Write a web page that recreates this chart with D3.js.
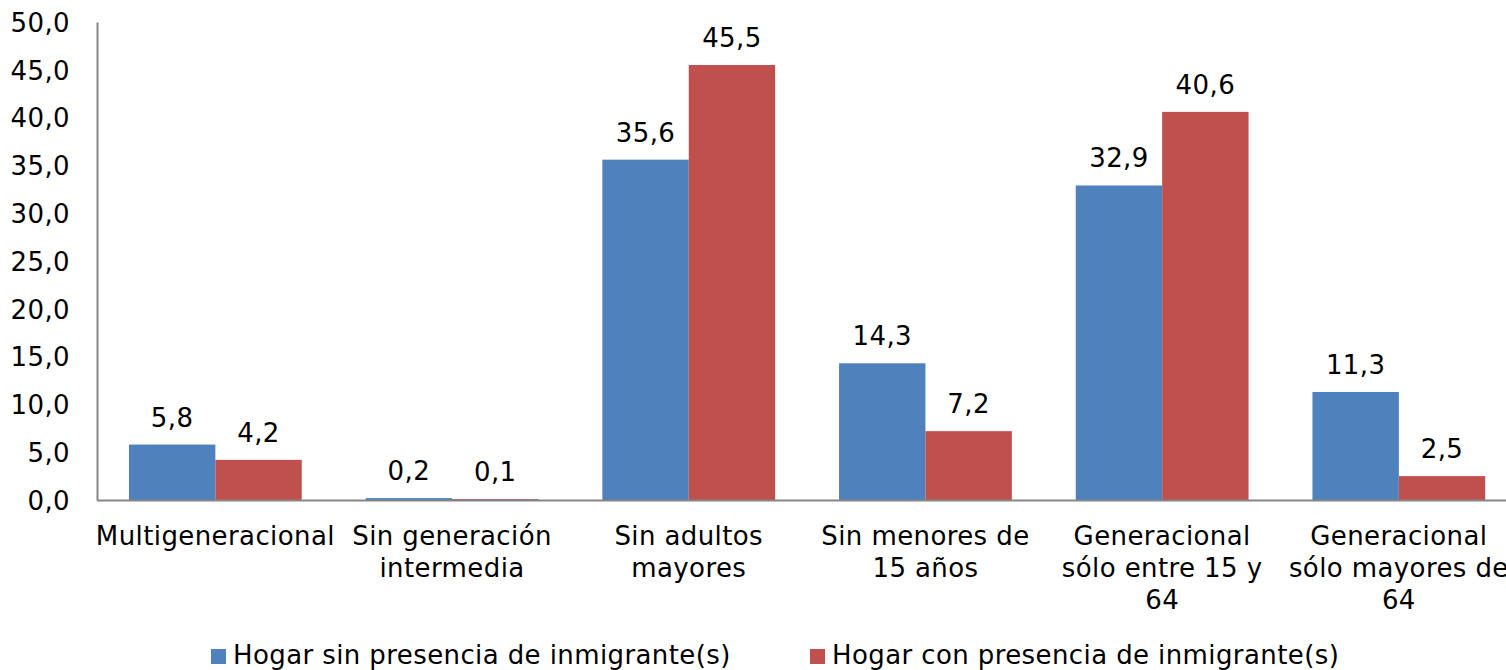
<!DOCTYPE html>
<html>
<head>
<meta charset="utf-8">
<script src="https://cdn.jsdelivr.net/npm/d3@7"></script>
<style>
  html, body { margin: 0; padding: 0; background: white; overflow: hidden; }
  text { font-family: "DejaVu Sans", Verdana, sans-serif; fill: #000; letter-spacing: 0.4px; }
</style>
</head>
<body>
<div id="wrapper"></div>
<script>
// chart data
var categories = [
    "Multigeneracional",
    "Sin generación intermedia",
    "Sin adultos mayores",
    "Sin menores de 15 años",
    "Generacional sólo entre 15 y 64",
    "Generacional sólo mayores de 64"
];
// the way each category label breaks into lines
var categoryLines = [
    ["Multigeneracional"],
    ["Sin generación", "intermedia"],
    ["Sin adultos", "mayores"],
    ["Sin menores de", "15 años"],
    ["Generacional", "sólo entre 15 y", "64"],
    ["Generacional", "sólo mayores de", "64"]
];
var seriesNames = ["Hogar sin presencia de inmigrante(s)", "Hogar con presencia de inmigrante(s)"];
var sinInmigrante = [5.8, 0.2, 35.6, 14.3, 32.9, 11.3];
var conInmigrante = [4.2, 0.1, 45.5, 7.2, 40.6, 2.5];
var yTicks = [0, 5, 10, 15, 20, 25, 30, 35, 40, 45, 50];
var colors = ["#4F81BD", "#C0504D"];

function create(){
    const dimension = {
        width: 1506,
        height: 670,
        margin: { top: 22, left: 97, bottom: 170 }
    };
    const fontSize = 26;
    const fmt = v => d3.format(".1f")(v).replace(".", ",");

    const svg = d3.select("#wrapper")
        .append("svg")
        .attr("width", dimension.width)
        .attr("height", dimension.height);

    const baseY = dimension.height - dimension.margin.bottom;

    // band scale runs past the right edge, like the original (clipped)
    var x = d3.scaleBand()
        .domain(categories)
        .range([dimension.margin.left, dimension.margin.left + 6 * 236.7])
        .paddingInner(0.27)
        .paddingOuter(0.135);

    var xs = d3.scaleBand()
        .domain([0, 1])
        .range([0, x.bandwidth()]);

    var y = d3.scaleLinear()
        .domain([0, 50])
        .range([baseY, dimension.margin.top]);

    // y axis
    var yAxis = svg.append("g")
        .attr("transform", "translate(" + dimension.margin.left + ",0)")
        .call(d3.axisLeft(y).tickValues(yTicks).tickFormat(fmt).tickSize(0).tickPadding(27));
    yAxis.select(".domain").attr("stroke", "#868686").attr("stroke-width", 2);
    yAxis.selectAll("text")
        .style("font-size", fontSize + "px")
        .attr("dy", "0.36em")
        .style("font-family", "'DejaVu Sans', Verdana, sans-serif");

    // bars
    var data = categories.map((c, i) => ({ cat: c, vals: [sinInmigrante[i], conInmigrante[i]] }));

    var groups = svg.append("g")
        .selectAll("g")
        .data(data)
        .enter()
        .append("g")
        .attr("transform", d => "translate(" + x(d.cat) + ",0)");

    groups.selectAll("rect")
        .data(d => d.vals)
        .enter()
        .append("rect")
        .attr("x", (d, i) => xs(i))
        .attr("y", d => y(d))
        .attr("width", xs.bandwidth())
        .attr("height", d => baseY - y(d))
        .attr("fill", (d, i) => colors[i]);

    groups.selectAll("text.val")
        .data(d => d.vals)
        .enter()
        .append("text")
        .attr("class", "val")
        .attr("x", (d, i) => xs(i) + xs.bandwidth() / 2)
        .attr("y", d => y(d) - 18)
        .attr("text-anchor", "middle")
        .style("font-size", fontSize + "px")
        .text(d => fmt(d));

    // x axis line
    svg.append("line")
        .attr("x1", dimension.margin.left)
        .attr("x2", dimension.width)
        .attr("y1", baseY + 0.5)
        .attr("y2", baseY + 0.5)
        .attr("stroke", "#868686")
        .attr("stroke-width", 2);

    // category labels
    svg.append("g")
        .selectAll("text")
        .data(categories)
        .enter()
        .append("text")
        .attr("text-anchor", "middle")
        .attr("y", baseY + 45)
        .style("font-size", fontSize + "px")
        .selectAll("tspan")
        .data((d, i) => categoryLines[i].map(t => ({ cat: d, t: t })))
        .enter()
        .append("tspan")
        .attr("x", d => x(d.cat) + x.bandwidth() / 2)
        .attr("dy", (d, i) => i === 0 ? 0 : 32)
        .text(d => d.t);

    // legend
    var legendX = [211, 810];
    var legend = svg.append("g")
        .selectAll("g")
        .data(seriesNames)
        .enter()
        .append("g")
        .attr("transform", (d, i) => "translate(" + legendX[i] + "," + 649 + ")");
    legend.append("rect")
        .attr("width", 15)
        .attr("height", 15)
        .attr("fill", (d, i) => colors[i]);
    legend.append("text")
        .attr("x", 22)
        .attr("y", 15)
        .style("font-size", fontSize + "px")
        .text(d => d);
}

create();
</script>
</body>
</html>
